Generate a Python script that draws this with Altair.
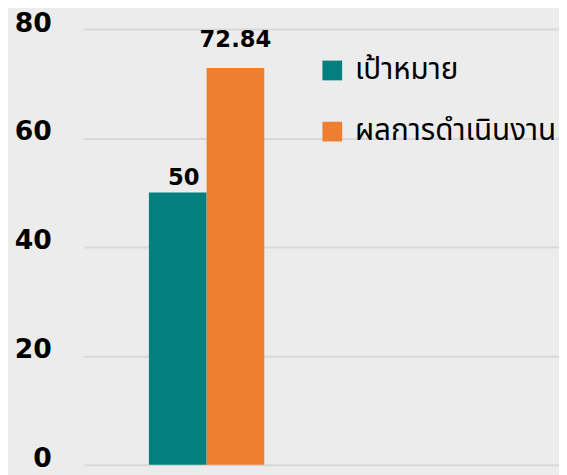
import altair as alt
import pandas as pd

series = ["เป้าหมาย", "ผลการดำเนินงาน"]
values = [50, 72.84]
labels = ["50", "72.84"]
colors = ["#027f7e", "#ee7f31"]
y_ticks = [0, 20, 40, 60, 80]

df = pd.DataFrame({"series": series, "value": values, "label": labels})
df["group"] = "g"

x = alt.X("group:N", scale=alt.Scale(paddingInner=0, paddingOuter=1, align=0.1374), axis=None)
xo = alt.XOffset("series:N", sort=series,
                 scale=alt.Scale(domain=series, paddingInner=0, paddingOuter=0.373))

bars = alt.Chart(df).mark_bar().encode(
    x=x, xOffset=xo,
    y=alt.Y("value:Q", scale=alt.Scale(domain=[0, 80]),
            axis=alt.Axis(values=y_ticks, title=None, domain=False, ticks=False,
                          labelFont="DejaVu Sans", labelFontWeight="bold", labelFontSize=27,
                          labelColor="#000000", labelPadding=33, labelBaseline="middle",
                          labelOffset=-6, gridColor="#d8d8d8", gridWidth=2)),
    color=alt.Color("series:N", sort=series,
                    scale=alt.Scale(domain=series, range=colors),
                    legend=alt.Legend(title=None, orient="none", legendX=237, legendY=27,
                                      symbolType="square", symbolSize=400, symbolStrokeWidth=0,
                                      labelFontSize=30, labelFont="Noto Sans Thai, Noto Sans, sans-serif",
                                      labelColor="#000000", labelOffset=8, rowPadding=32,
                                      padding=0, labelLimit=400)),
)

txt_style = dict(font="DejaVu Sans", fontWeight="bold", fontSize=23, color="#000000",
                 baseline="bottom", align="center")

t1 = alt.Chart(df).transform_filter(alt.datum.series == series[0]).mark_text(dy=-3, dx=6, **txt_style).encode(
    x=x, xOffset=xo, y="value:Q", text="label:N")
t2 = alt.Chart(df).transform_filter(alt.datum.series == series[1]).mark_text(dy=-16, **txt_style).encode(
    x=x, xOffset=xo, y="value:Q", text="label:N")

chart = alt.layer(bars, t1, t2).properties(
    width=482, height=442, background="#ececec",
    padding={"left": 77, "top": 18, "right": 0, "bottom": 7},
    autosize=alt.AutoSizeParams(type="none"),
).configure_view(stroke=None, fill="#ececec")

chart.save("out.html", embed_options={"renderer": "svg", "actions": False})
